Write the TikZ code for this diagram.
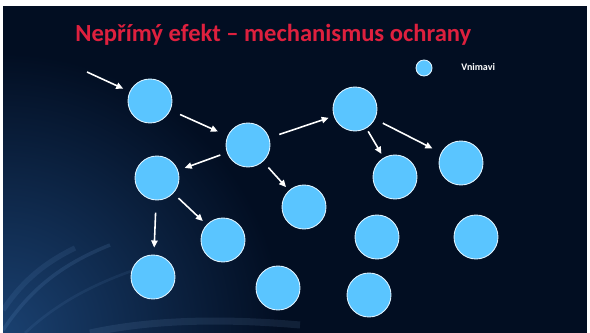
\documentclass[tikz,border=0pt]{standalone}
\usepackage{fontspec}
\setmainfont{Carlito}
\usetikzlibrary{arrows.meta}
\definecolor{navy}{RGB}{2,14,34}
\definecolor{titlered}{RGB}{222,32,62}
\definecolor{skyfill}{RGB}{90,197,255}
\definecolor{glow}{RGB}{50,115,190}

\tikzset{
  vnim/.style={circle, fill=skyfill, draw=white!80!skyfill, line width=0.5pt, minimum size=0.88cm, inner sep=0pt},
  arr/.style={white, line width=0.9pt, -{Triangle[length=4pt,width=3.6pt]}, shorten <=4pt, shorten >=4pt},
}

\begin{document}
\begin{tikzpicture}[x=0.02cm,y=-0.02cm]
\useasboundingbox (0,0) rectangle (590,333);
%background
\fill[white] (0,0) rectangle (590,333);
\fill[navy] (3,6) rectangle (587,333);
\begin{scope}
\clip (3,6) rectangle (587,333);
\shade[inner color=glow!50!navy, outer color=navy] (3,333) circle (280);
%streaks
\draw[glow!70!white, opacity=0.15, line width=2pt] (3,330) .. controls (30,290) and (60,265) .. (110,245);
\draw[glow!70!white, opacity=0.12, line width=3pt] (3,310) .. controls (20,285) and (40,265) .. (75,248);
\draw[glow!70!white, opacity=0.1, line width=1.5pt] (25,333) .. controls (55,305) and (90,285) .. (140,268);
\draw[glow!60!white, opacity=0.12, line width=4pt] (90,333) .. controls (150,320) and (220,318) .. (300,325);
\end{scope}
%title
\node[anchor=base west, inner sep=0pt, text=titlered, font=\bfseries\fontsize{14}{16}\selectfont] (title) at (75,42) {Nepřímý efekt – mechanismus ochrany};
%legend
\node[vnim, minimum size=0.32cm] (leg) at (424,68) {};
\node[anchor=west, inner sep=0pt, text=white, font=\bfseries\fontsize{5.7}{7}\selectfont] (legtext) at (461,67) {Vnimavi};
%nodes
\node[vnim] (a) at (150,101) {};
\node[vnim] (b) at (248,145) {};
\node[vnim] (c) at (355,109) {};
\node[vnim] (d) at (157,178) {};
\node[vnim] (e) at (304,207) {};
\node[vnim] (f) at (395,177) {};
\node[vnim] (g) at (461,163) {};
\node[vnim] (h) at (223,240) {};
\node[vnim] (i) at (377,237) {};
\node[vnim] (j) at (476,237) {};
\node[vnim] (k) at (153,277) {};
\node[vnim] (l) at (278,288) {};
\node[vnim] (m) at (369,295) {};
\coordinate (in) at (87,72);
%arrows
\draw[arr, shorten <=0pt] (in) -- (a);
\draw[arr, shorten <=6pt, shorten >=6pt] (a) -- (b);
\draw[arr, shorten <=6pt, shorten >=3pt] (b) -- (c);
\draw[arr] (b) -- (d);
\draw[arr, shorten <=4.5pt, shorten >=2.5pt] (b) -- (e);
\draw[arr, shorten <=2pt, shorten >=2.5pt] (c) -- (f);
\draw[arr, shorten <=5pt, shorten >=5.5pt] (c) -- (g);
\draw[arr, shorten <=7pt] (d) -- (k);
\draw[arr, shorten >=3pt] (d) -- (h);
\end{tikzpicture}
\end{document}
